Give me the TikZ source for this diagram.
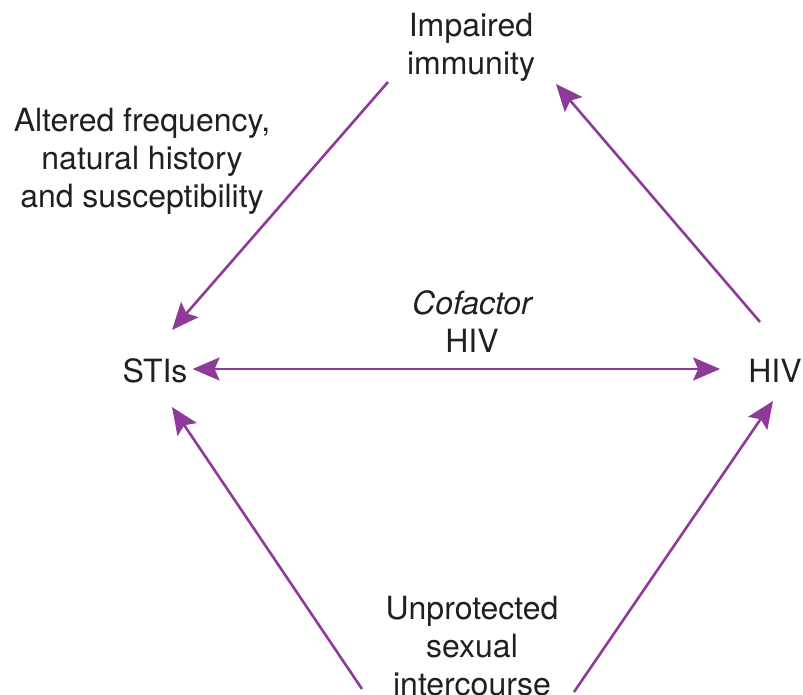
\documentclass[tikz,border=0pt]{standalone}
\usepackage{fontspec}
\setmainfont{TeX Gyre Heros}
\usepackage{tikz}
\usetikzlibrary{arrows.meta}

\definecolor{linkpurple}{RGB}{142,58,152}
\definecolor{labelgrey}{RGB}{35,31,32}

\tikzset{
    lbl/.style={align=center, text=labelgrey, font=\fontsize{32}{38}\selectfont, inner sep=0pt},
    link/.style={draw=linkpurple, line width=2.6pt, -{Stealth[length=27pt, width=23pt, inset=5pt]}},
    dlink/.style={link, {Stealth[length=27pt, width=23pt, inset=5pt]}-{Stealth[length=27pt, width=23pt, inset=5pt]}}
}

\begin{document}
\begin{tikzpicture}[x=1pt, y=-1pt]
    	% Frame:
    	\useasboundingbox (0, 0) rectangle (803, 695);
    	% Labels:
    	\node[lbl] (imm) at (471, 47) {Impaired\\immunity};
    	\node[lbl] (alt) at (142, 161) {Altered frequency,\\natural history\\and susceptibility};
    	\node[lbl] (cof) at (472, 322) {\itshape Cofactor\\HIV};
    	\node[lbl] (stis) at (155, 371) {STIs};
    	\node[lbl] (hiv) at (775, 371) {HIV};
    	\node[lbl] (sex) at (472, 646) {Unprotected\\sexual\\intercourse};
    	% Arrow ends:
    	\coordinate (immA) at (388, 82);
    	\coordinate (stisA) at (172, 330);
    	\coordinate (hivA) at (760, 322);
    	\coordinate (immB) at (556, 84);
    	\coordinate (sexA) at (362, 689);
    	\coordinate (stisB) at (172, 407);
    	\coordinate (sexB) at (574, 692);
    	\coordinate (hivB) at (773, 401);
    	% Paths:
    	\draw[link] (immA) -- (stisA);
    	\draw[link] (hivA) -- (immB);
    	\draw[dlink] ([xshift=5pt]stis.east |- 0,369) -- ([xshift=-28pt]hiv.west |- 0,369);
    	\draw[link] (sexA) -- (stisB);
    	\draw[link] (sexB) -- (hivB);
    \end{tikzpicture}
\end{document}
